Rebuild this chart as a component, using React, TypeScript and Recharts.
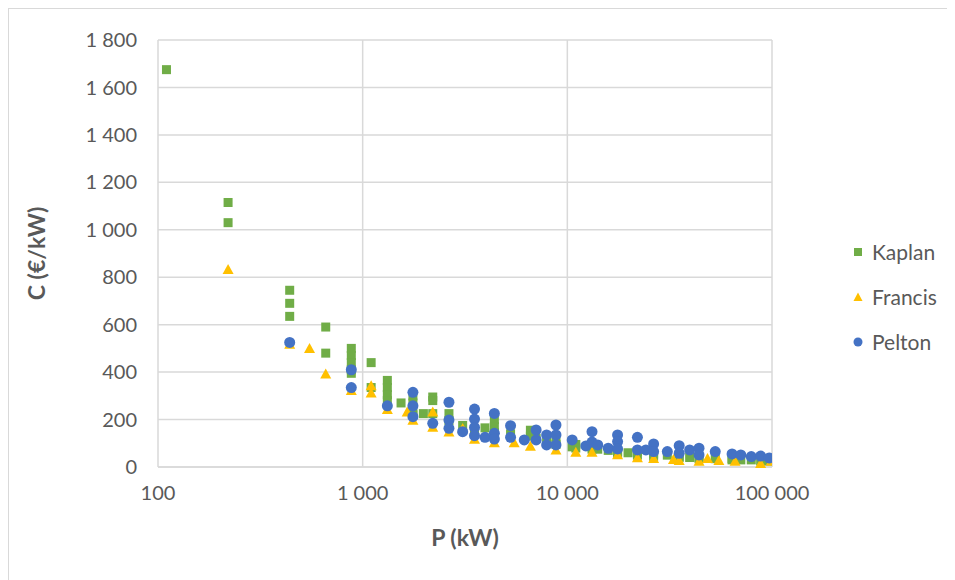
import React from "react";
import {
  ScatterChart, Scatter, XAxis, YAxis, CartesianGrid, Legend, Label,
} from "recharts";

// [P (kW), C (€/kW)]
const kaplan: [number, number][] = [
  [110, 1675],
  [220, 1115], [220, 1030],
  [440, 745], [440, 690], [440, 635],
  [660, 590], [660, 480],
  [880, 500], [880, 470], [880, 440], [880, 410], [880, 395],
  [1100, 440], [1100, 335],
  [1320, 365], [1320, 335], [1320, 305], [1320, 280],
  [1540, 270],
  [1760, 300], [1760, 270], [1760, 240], [1760, 220],
  [1980, 225],
  [2200, 295], [2200, 280], [2200, 225],
  [2640, 225], [2640, 195],
  [3080, 175], [3520, 155], [3960, 165],
  [4400, 200], [4400, 170], [4400, 145],
  [5280, 140], [6600, 155], [6600, 130], [7040, 120], [7920, 110],
  [8800, 105], [8800, 95], [10560, 85], [11000, 95], [11000, 80],
  [13200, 85], [13200, 75], [14080, 75], [15840, 70],
  [17600, 65], [17600, 55], [19800, 60], [22000, 65], [22000, 50],
  [26400, 55], [26400, 45], [30800, 50], [35200, 45], [35200, 40],
  [39600, 40], [44000, 40], [44000, 35], [52800, 35],
  [63800, 35], [63800, 30], [70400, 30], [79200, 30], [88000, 25], [96800, 25],
];

const francis: [number, number][] = [
  [220, 830], [440, 515], [550, 497], [660, 390], [880, 320],
  [1100, 340], [1100, 310], [1320, 240], [1650, 230], [1760, 195],
  [2200, 230], [2200, 165], [2640, 145], [3080, 160], [3520, 115],
  [4400, 100], [5500, 100], [6600, 85], [8800, 70],
  [11000, 60], [13200, 60], [17600, 50], [22000, 37], [26400, 34],
  [33000, 30], [35200, 25], [44000, 22], [48400, 34], [55000, 25],
  [66000, 22], [88000, 13], [99000, 22],
];

const pelton: [number, number][] = [
  [440, 525], [880, 410], [880, 335], [1320, 258],
  [1760, 315], [1760, 258], [1760, 212], [2200, 184],
  [2640, 273], [2640, 198], [2640, 163], [3080, 149],
  [3520, 244], [3520, 202], [3520, 167], [3520, 132], [3960, 125],
  [4400, 226], [4400, 142], [4400, 118], [5280, 174], [5280, 125],
  [6160, 114], [7040, 156], [7040, 114], [7920, 135], [7920, 93],
  [8800, 177], [8800, 135], [8800, 93], [10560, 114], [12320, 89],
  [13200, 149], [13200, 105], [14080, 93], [15840, 79],
  [17600, 135], [17600, 107], [17600, 76], [22000, 125], [22000, 72],
  [24200, 72], [26400, 97], [26400, 65], [30800, 65], [35200, 90], [35200, 58],
  [39600, 72], [44000, 79], [44000, 51], [52800, 65], [63800, 55],
  [70400, 51], [79200, 44], [88000, 46], [96800, 38],
];

const xTicks = [100, 1000, 10000, 100000];
const yTicks = [0, 200, 400, 600, 800, 1000, 1200, 1400, 1600, 1800];

const FONT = "Lato, 'Open Sans', sans-serif";
const TEXT = "#595959";
const GRID = "#d9d9d9";

const toRows = (pts: [number, number][]) => pts.map(([p, c]) => ({ p, c }));
const fmt = (v: number) => v.toLocaleString("fr-FR").replace(/\u202f|\u00a0/g, " ");

const Square = (props: any) => (
  <rect x={props.cx - 4.5} y={props.cy - 4.5} width={9} height={9} fill="#70AD47" />
);
const Triangle = (props: any) => (
  <path
    d={`M${props.cx},${props.cy - 6} L${props.cx + 5.5},${props.cy + 4} L${props.cx - 5.5},${props.cy + 4} Z`}
    fill="#FFC000"
  />
);
const Dot = (props: any) => <circle cx={props.cx} cy={props.cy} r={5.5} fill="#4472C4" />;

const legendItems = [
  { name: "Kaplan", Icon: () => <rect x={1} y={1} width={8} height={8} fill="#70AD47" /> },
  { name: "Francis", Icon: () => <path d="M5,0.5 L9.5,9 L0.5,9 Z" fill="#FFC000" /> },
  { name: "Pelton", Icon: () => <circle cx={5} cy={5} r={4.5} fill="#4472C4" /> },
];

const renderLegend = () => (
  <div style={{ fontFamily: FONT, fontSize: 21, color: TEXT }}>
    {legendItems.map(({ name, Icon }) => (
      <div key={name} style={{ display: "flex", alignItems: "center", height: 45 }}>
        <svg width={10} height={10} style={{ marginRight: 9, flex: "none" }}>
          <Icon />
        </svg>
        <span>{name}</span>
      </div>
    ))}
  </div>
);

export default function App() {
  return (
    <div
      style={{
        width: 947, height: 572, boxSizing: "border-box",
        borderLeft: `1px solid ${GRID}`, borderTop: `1px solid ${GRID}`,
        background: "#fff", overflow: "hidden",
      }}
    >
      <ScatterChart width={946} height={571} margin={{ top: 31, right: 183, bottom: 33, left: 0 }}>
        <CartesianGrid stroke={GRID} strokeWidth={1.5} />
        <XAxis
          type="number" dataKey="p" scale="log" domain={[100, 100000]} ticks={xTicks}
          allowDataOverflow tickFormatter={fmt} height={80}
          axisLine={{ stroke: GRID, strokeWidth: 1.5 }} tickLine={false} tickSize={0} tickMargin={19}
          tick={{ fill: TEXT, fontSize: 20, fontFamily: FONT }}
        >
          <Label value="P (kW)" position="insideBottom" offset={1}
            style={{ fill: TEXT, fontSize: 23, fontWeight: 700, fontFamily: FONT }} />
        </XAxis>
        <YAxis
          type="number" dataKey="c" domain={[0, 1800]} ticks={yTicks} width={149}
          tickFormatter={fmt} axisLine={false} tickLine={false} tickSize={0} tickMargin={21}
          tick={{ fill: TEXT, fontSize: 20, fontFamily: FONT }}
        >
          <Label value="C (€/kW)" angle={-90} position="insideLeft" offset={28}
            style={{ fill: TEXT, fontSize: 23, fontWeight: 700, fontFamily: FONT, textAnchor: "middle" }} />
        </YAxis>
        <Legend
          layout="horizontal" verticalAlign="middle" content={renderLegend}
          wrapperStyle={{ left: 844, top: 220, width: 100 }}
        />
        <Scatter name="Kaplan" data={toRows(kaplan)} shape={Square} isAnimationActive={false} />
        <Scatter name="Francis" data={toRows(francis)} shape={Triangle} isAnimationActive={false} />
        <Scatter name="Pelton" data={toRows(pelton)} shape={Dot} isAnimationActive={false} />
      </ScatterChart>
    </div>
  );
}
